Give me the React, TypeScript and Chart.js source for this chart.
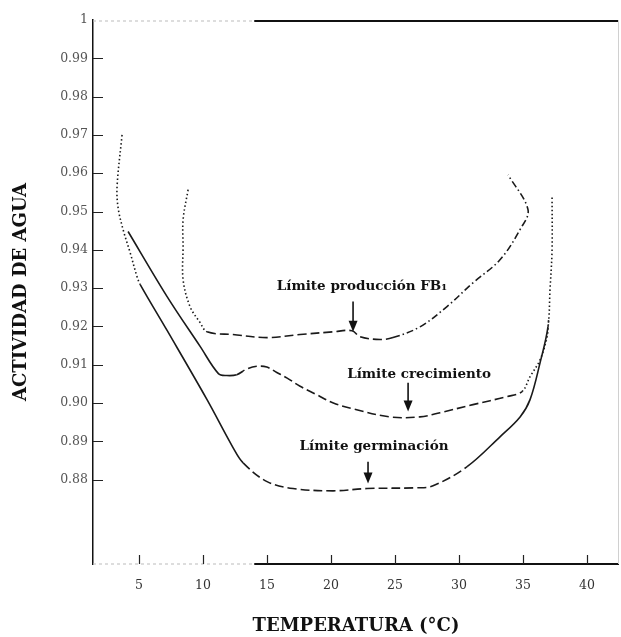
import { useEffect, useRef } from 'react';
import { Chart, registerables } from 'chart.js';

Chart.register(...registerables);

const xTickValues = [5, 10, 15, 20, 25, 30, 35, 40];
const yTickValues = [0.88, 0.89, 0.9, 0.91, 0.92, 0.93, 0.94, 0.95, 0.96, 0.97, 0.98, 0.99, 1];

const germinacionX = [3.67, 3.28, 3.36, 3.75, 4.3, 4.84, 5.08, 7.2, 10.31, 12.34, 13.13, 15.0, 17.03, 20.16, 22.81, 26.72, 27.97, 30.63, 33.2, 34.77, 35.55, 36.33, 36.95, 37.11, 37.27, 37.27];
const germinacionY = [0.97, 0.9565, 0.951, 0.9453, 0.9393, 0.933, 0.931, 0.9189, 0.9009, 0.8884, 0.8844, 0.8795, 0.8777, 0.8771, 0.8777, 0.8779, 0.8784, 0.8834, 0.8912, 0.8964, 0.9009, 0.9105, 0.9199, 0.9296, 0.94, 0.9539];

const crecimientoX = [4.14, 7.19, 9.77, 11.2, 11.85, 12.63, 13.41, 14.19, 14.98, 15.76, 16.54, 17.58, 18.88, 20.18, 21.74, 24.61, 26.95, 28.52, 31.09, 33.75, 34.92, 35.55, 36.33, 36.88, 37.0];
const crecimientoY = [0.9448, 0.9278, 0.9148, 0.9077, 0.9072, 0.9074, 0.9089, 0.9096, 0.9094, 0.908, 0.9066, 0.9044, 0.9022, 0.9, 0.8985, 0.8964, 0.8964, 0.8975, 0.8996, 0.9017, 0.903, 0.9069, 0.9113, 0.9173, 0.9218];

const produccionX = [8.83, 8.44, 8.44, 8.44, 8.98, 9.77, 10.31, 12.34, 15.0, 17.58, 20.16, 21.64, 22.27, 23.83, 24.84, 26.95, 29.06, 31.09, 33.2, 34.77, 35.39, 33.83];
const produccionY = [0.9557, 0.9479, 0.9408, 0.9322, 0.9252, 0.921, 0.9186, 0.9179, 0.9171, 0.9179, 0.9186, 0.9189, 0.9173, 0.9166, 0.9171, 0.9199, 0.9252, 0.9314, 0.9374, 0.9453, 0.9505, 0.9596];

const labelTexts = ['Límite producción FB₁', 'Límite crecimiento', 'Límite germinación'];
const labelX = [22.42, 26.88, 23.36];
const labelY = [0.9304, 0.9074, 0.8886];
const arrowX = [21.72, 26.02, 22.89];
const arrowFrom = [0.9265, 0.9053, 0.8847];
const arrowTo = [0.9186, 0.8978, 0.879];

const DOT = [1.5, 2.5];
const DASH = [9, 4];
const DASHDOT = [7, 3, 1.5, 3];
const SOLID: number[] = [];

const LINE = '#1a1a1a';

const germStyle = (i: number) => (i < 6 ? DOT : i < 10 ? SOLID : i < 17 ? DASH : i < 22 ? SOLID : DOT);
const crecStyle = (i: number) => (i < 5 ? SOLID : i < 20 ? DASH : DOT);
const prodStyle = (i: number) => (i < 6 ? DOT : i < 14 ? DASH : DASHDOT);

const toPoints = (xs: number[], ys: number[]) => xs.map((x, i) => ({ x, y: ys[i] }));

const decorPlugin = {
  id: 'decor',
  afterDraw(chart: any) {
    const { ctx, chartArea, scales } = chart;
    const xs = scales.x;
    const ys = scales.y;
    ctx.save();
    const split = xs.getPixelForValue(14);
    ctx.strokeStyle = '#bbbbbb';
    ctx.lineWidth = 1;
    ctx.setLineDash([3, 3]);
    ctx.beginPath();
    ctx.moveTo(chartArea.left, chartArea.top + 1);
    ctx.lineTo(split, chartArea.top + 1);
    ctx.moveTo(chartArea.left, chartArea.bottom);
    ctx.lineTo(split, chartArea.bottom);
    ctx.stroke();
    ctx.setLineDash([]);
    ctx.strokeStyle = '#111';
    ctx.lineWidth = 2;
    ctx.beginPath();
    ctx.moveTo(split, chartArea.top + 1);
    ctx.lineTo(chartArea.right, chartArea.top + 1);
    ctx.moveTo(split, chartArea.bottom);
    ctx.lineTo(chartArea.right, chartArea.bottom);
    ctx.stroke();
    ctx.strokeStyle = '#d0d0d0';
    ctx.lineWidth = 1;
    ctx.beginPath();
    ctx.moveTo(chartArea.right - 0.5, chartArea.top);
    ctx.lineTo(chartArea.right - 0.5, chartArea.bottom);
    ctx.stroke();
    ctx.strokeStyle = '#222';
    ctx.lineWidth = 1.2;
    ctx.beginPath();
    yTickValues.forEach((v) => {
      if (v === 1) return;
      const py = Math.round(ys.getPixelForValue(v)) + 0.5;
      ctx.moveTo(chartArea.left, py);
      ctx.lineTo(chartArea.left + 10, py);
    });
    xTickValues.forEach((v) => {
      const px = Math.round(xs.getPixelForValue(v)) + 0.5;
      ctx.moveTo(px, chartArea.bottom);
      ctx.lineTo(px, chartArea.bottom - 9);
    });
    ctx.stroke();
    ctx.fillStyle = '#111';
    ctx.strokeStyle = '#111';
    ctx.font = 'bold 13.5px "DejaVu Serif"';
    ctx.textAlign = 'center';
    ctx.textBaseline = 'middle';
    labelTexts.forEach((t, i) => {
      ctx.fillText(t, xs.getPixelForValue(labelX[i]), ys.getPixelForValue(labelY[i]));
      const ax = xs.getPixelForValue(arrowX[i]);
      const y0 = ys.getPixelForValue(arrowFrom[i]);
      const y1 = ys.getPixelForValue(arrowTo[i]);
      ctx.lineWidth = 1.6;
      ctx.beginPath();
      ctx.moveTo(ax, y0);
      ctx.lineTo(ax, y1 - 8);
      ctx.stroke();
      ctx.beginPath();
      ctx.moveTo(ax - 4.5, y1 - 11);
      ctx.lineTo(ax + 4.5, y1 - 11);
      ctx.lineTo(ax, y1);
      ctx.closePath();
      ctx.fill();
    });
    ctx.restore();
  },
};

export default function App() {
  const canvasRef = useRef<HTMLCanvasElement>(null);

  useEffect(() => {
    document.body.style.margin = '0';
    const canvas = canvasRef.current;
    if (!canvas) return;
    const mk = (label: string, xs: number[], ys: number[], style: (i: number) => number[]) => ({
      label,
      data: toPoints(xs, ys),
      borderColor: LINE,
      borderWidth: 1.6,
      pointRadius: 0,
      tension: 0.35,
      fill: false,
      segment: { borderDash: (c: any) => style(c.p0DataIndex) },
    });
    const chart = new Chart(canvas, {
      type: 'line',
      data: {
        datasets: [
          mk('Límite germinación', germinacionX, germinacionY, germStyle),
          mk('Límite crecimiento', crecimientoX, crecimientoY, crecStyle),
          mk('Límite producción FB1', produccionX, produccionY, prodStyle),
        ],
      },
      options: {
        responsive: false,
        animation: false,
        devicePixelRatio: 1,
        layout: { padding: { top: 20, right: 2, left: 0, bottom: 0 } },
        plugins: { legend: { display: false }, tooltip: { enabled: false } },
        scales: {
          x: {
            type: 'linear',
            min: 1.4,
            max: 42.5,
            afterBuildTicks: (s: any) => {
              s.ticks = xTickValues.map((v) => ({ value: v }));
            },
            afterFit: (s: any) => {
              s.height = 73;
            },
            grid: { display: false, drawTicks: false },
            border: { display: false },
            ticks: {
              padding: 14,
              color: '#333',
              font: { family: '"DejaVu Serif"', size: 12.5 },
              callback: (v: any) => String(v),
            },
            title: {
              display: true,
              text: 'TEMPERATURA (°C)',
              color: '#111',
              font: { family: '"DejaVu Serif"', size: 18, weight: 'bold' },
              padding: { top: 0, bottom: 0 },
            },
          },
          y: {
            type: 'linear',
            min: 0.858,
            max: 1.0,
            afterBuildTicks: (s: any) => {
              s.ticks = yTickValues.map((v) => ({ value: v }));
            },
            afterFit: (s: any) => {
              s.width = 93;
            },
            grid: { display: false, drawTicks: false },
            border: { display: true, color: '#111', width: 1.5 },
            ticks: {
              padding: 5,
              color: '#555',
              font: { family: '"DejaVu Serif"', size: 12.5 },
              callback: (v: any) => (v === 1 ? '1' : Number(v).toFixed(2)),
            },
            title: {
              display: true,
              text: 'ACTIVIDAD DE AGUA',
              color: '#111',
              font: { family: '"DejaVu Serif"', size: 18, weight: 'bold' },
              padding: { top: 11, bottom: 0 },
            },
          },
        },
      },
      plugins: [decorPlugin],
    });
    return () => chart.destroy();
  }, []);

  return (
    <div style={{ position: 'absolute', left: 0, top: 0, width: 621, height: 637, background: '#fff' }}>
      <canvas ref={canvasRef} width={621} height={637} />
    </div>
  );
}
